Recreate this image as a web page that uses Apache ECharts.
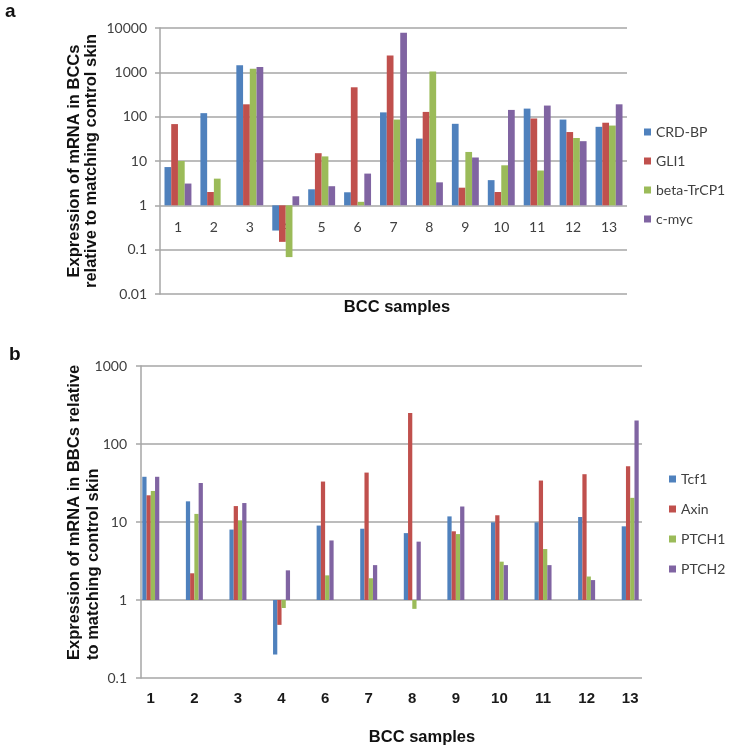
<!DOCTYPE html>
<html>
<head>
<meta charset="utf-8">
<script src="https://cdn.jsdelivr.net/npm/echarts@6/dist/echarts.min.js"></script>
<style>
html,body{margin:0;padding:0;background:#fff;}
#c{width:746px;height:750px;}
</style>
</head>
<body>
<div id="c"></div>
<script>
// ---------- Panel a data ----------
var catsA = ['1','2','3','4','5','6','7','8','9','10','11','12','13'];
var namesA = ['CRD-BP','GLI1','beta-TrCP1','c-myc'];
var crdbp  = [7.3, 120, 1450, 0.27, 2.3, 1.97, 125, 32, 69, 3.7, 152, 86, 59];
var gli1   = [68, 2.0, 190, 0.15, 15, 460, 2400, 128, 2.5, 2.0, 91, 45, 73];
var btrcp1 = [10, 4.0, 1200, 0.068, 12.7, 1.2, 86, 1050, 16, 8, 6.1, 33, 63];
var cmyc   = [3.1, null, 1320, 1.6, 2.7, 5.2, 7800, 3.3, 12, 142, 178, 28, 190];
var ticksA = ['0.01','0.1','1','10','100','1000','10000'];

// ---------- Panel b data ----------
var catsB = ['1','2','3','4','6','7','8','9','10','11','12','13'];
var namesB = ['Tcf1','Axin','PTCH1','PTCH2'];
var tcf1  = [38, 18.4, 8, 0.2, 9, 8.2, 7.2, 11.8, 9.9, 9.9, 11.6, 8.8];
var axin  = [22, 2.2, 16, 0.48, 33, 43, 250, 7.6, 12.2, 34, 41, 52];
var ptch1 = [25, 12.7, 10.5, 0.79, 2.07, 1.9, 0.77, 7.0, 3.1, 4.5, 2.0, 20.4];
var ptch2 = [38, 31.6, 17.5, 2.4, 5.8, 2.8, 5.6, 15.8, 2.8, 2.8, 1.8, 200];
var ticksB = ['0.1','1','10','100','1000'];

var colors = ['#4F81BD','#C0504D','#9BBB59','#8064A2'];
var gridColor = '#a6a6a6';
var tickFont = 'Lato, "Open Sans", sans-serif';
var boldFont = '"Liberation Sans", Arial, sans-serif';

function fmtLog(v){ return String(+Number(v).toPrecision(6)); }

var chart = echarts.init(document.getElementById('c'), null, {renderer:'canvas'});

function barSeries(name, data, color, xi, yi, gap){
  return {
    type:'bar', name:name, data:data, xAxisIndex:xi, yAxisIndex:yi,
    itemStyle:{color:color}, barGap:'0%', barCategoryGap:gap,
    emphasis:{disabled:true}, animation:false
  };
}

var option = {
  animation:false,
  color: colors,
  grid:[
    {left:160, top:28, width:467, height:266},   // a bars + frame
    {left:160, top:28, width:467, height:178},   // a category labels (crossing at 1)
    {left:141, top:366, width:501, height:312},  // b frame
    {left:129, top:366, width:523, height:312}   // b bars
  ],
  xAxis:[
    {gridIndex:0, type:'category', data:catsA, axisLine:{show:false}, axisTick:{show:false}, axisLabel:{show:false}},
    {gridIndex:1, type:'category', data:catsA, axisLine:{show:false}, axisTick:{show:false},
      axisLabel:{margin:14, fontFamily:tickFont, fontSize:14, color:'#404040'}},
    {gridIndex:2, type:'category', data:catsB, axisLine:{show:false}, axisTick:{show:false}, axisLabel:{show:false}},
    {gridIndex:3, type:'category', data:catsB, axisLine:{show:false}, axisTick:{show:false},
      axisLabel:{margin:13, fontFamily:boldFont, fontSize:15, fontWeight:'bold', color:'#1a1a1a'}}
  ],
  yAxis:[
    {gridIndex:0, type:'log', logBase:10, min:0.01, max:10000, interval:1,
      axisLine:{show:true, lineStyle:{color:gridColor, width:1.5}},
      axisTick:{show:true, inside:false, length:5, lineStyle:{color:gridColor, width:1.5}},
      axisLabel:{margin:13, fontFamily:tickFont, fontSize:14, color:'#404040', formatter:fmtLog},
      splitLine:{show:true, lineStyle:{color:gridColor, width:1.5}}},
    {gridIndex:1, type:'log', min:1, max:10000, show:false},
    {gridIndex:2, type:'log', logBase:10, min:0.1, max:1000, interval:1,
      axisLine:{show:true, lineStyle:{color:gridColor, width:1.5}},
      axisTick:{show:true, inside:false, length:5, lineStyle:{color:gridColor, width:1.5}},
      axisLabel:{margin:14, fontFamily:tickFont, fontSize:14, color:'#404040', formatter:fmtLog},
      splitLine:{show:true, lineStyle:{color:gridColor, width:1.5}}},
    {gridIndex:3, type:'log', logBase:10, min:0.1, max:1000, show:false}
  ],
  legend:[
    {data:namesA, orient:'vertical', left:644, top:125, itemWidth:7, itemHeight:7, itemGap:15,
      icon:'rect', padding:0, selectedMode:false,
      textStyle:{fontFamily:tickFont, fontSize:14, color:'#404040'}},
    {data:namesB, orient:'vertical', left:669, top:472, itemWidth:7, itemHeight:7, itemGap:16,
      icon:'rect', padding:0, selectedMode:false,
      textStyle:{fontFamily:tickFont, fontSize:14, color:'#404040'}}
  ],
  series:[
    barSeries(namesA[0], crdbp,  colors[0], 0, 0, '25%'),
    barSeries(namesA[1], gli1,   colors[1], 0, 0, '25%'),
    barSeries(namesA[2], btrcp1, colors[2], 0, 0, '25%'),
    barSeries(namesA[3], cmyc,   colors[3], 0, 0, '25%'),
    barSeries(namesB[0], tcf1,  colors[0], 3, 3, '61%'),
    barSeries(namesB[1], axin,  colors[1], 3, 3, '61%'),
    barSeries(namesB[2], ptch1, colors[2], 3, 3, '61%'),
    barSeries(namesB[3], ptch2, colors[3], 3, 3, '61%')
  ],
  graphic:[
    {type:'text', left:5, top:2, style:{text:'a', font:'bold 19px "Liberation Sans", Arial, sans-serif', fill:'#111'}},
    {type:'text', left:9, top:345, style:{text:'b', font:'bold 19px "Liberation Sans", Arial, sans-serif', fill:'#111'}},
    {type:'text', x:82.5, y:161, rotation:Math.PI/2,
      style:{text:'Expression of mRNA in BCCs\nrelative to matching control skin', align:'center', verticalAlign:'middle',
        font:'bold 16.5px "Liberation Sans", Arial, sans-serif', lineHeight:17, fill:'#111'}},
    {type:'text', x:84, y:660, rotation:Math.PI/2,
      style:{text:'Expression of mRNA in BBCs relative\nto matching control skin', align:'left', verticalAlign:'middle',
        font:'bold 16.5px "Liberation Sans", Arial, sans-serif', lineHeight:19, fill:'#111'}},
    {type:'text', x:397, y:307, style:{text:'BCC samples', align:'center', verticalAlign:'middle',
        font:'bold 16.5px "Liberation Sans", Arial, sans-serif', fill:'#111'}},
    {type:'text', x:422, y:737, style:{text:'BCC samples', align:'center', verticalAlign:'middle',
        font:'bold 16.5px "Liberation Sans", Arial, sans-serif', fill:'#111'}}
  ]
};
chart.setOption(option);
</script>
</body>
</html>
